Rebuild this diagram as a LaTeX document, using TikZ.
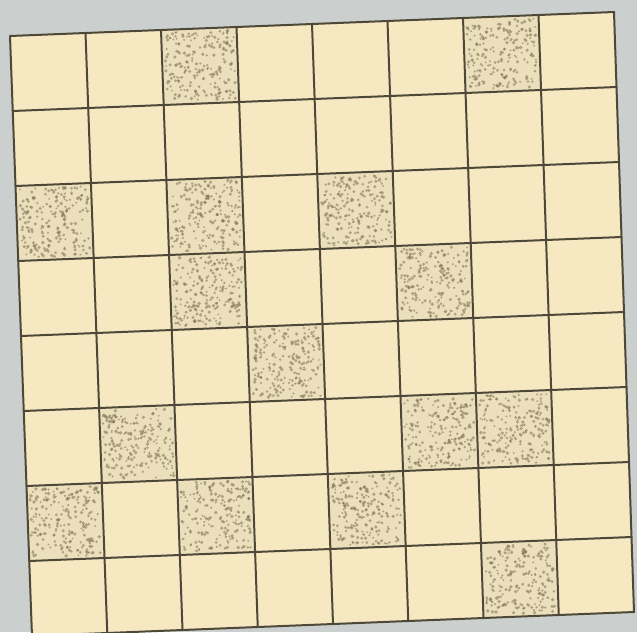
\documentclass[tikz,border=0pt]{standalone}
\usepackage{tikz}
\definecolor{bggray}{RGB}{203,207,206}
\definecolor{cream}{RGB}{246,233,194}
\definecolor{dotcell}{RGB}{236,224,188}
\definecolor{gridline}{RGB}{78,72,56}
\definecolor{stipple}{RGB}{125,112,84}
\newcommand\gridpt[3]{%
  \pgfmathsetmacro\gx{(1-(#2))*((1-(#1))*10+(#1)*614)+(#2)*((1-(#1))*32+(#1)*634)}%
  \pgfmathsetmacro\gy{(1-(#2))*((1-(#1))*36+(#1)*12)+(#2)*((1-(#1))*636+(#1)*612)}%
  \coordinate (#3) at (\gx,-\gy);}
\begin{document}
\begin{tikzpicture}[x=1pt,y=1pt,
  gridstroke/.style={draw=gridline,line width=2pt,line cap=round},
  dotmark/.style={fill=stipple,fill opacity=0.55}]
\useasboundingbox (0,0) rectangle (637,-632);
\fill[bggray] (0,0) rectangle (637,-632);
\gridpt{0}{0}{TL}\gridpt{1}{0}{TR}\gridpt{1}{1}{BR}\gridpt{0}{1}{BL}
\fill[cream] (TL) -- (TR) -- (BR) -- (BL) -- cycle;
\pgfmathsetseed{4242}
\foreach \c/\r in {3/1,7/1,1/3,3/3,5/3,3/4,6/4,4/5,2/6,6/6,7/6,1/7,3/7,5/7,7/8}{
  \pgfmathsetmacro\ua{(\c-1)/8}\pgfmathsetmacro\ub{\c/8}
  \pgfmathsetmacro\va{(\r-1)/8}\pgfmathsetmacro\vb{\r/8}
  \gridpt{\ua}{\va}{P1}\gridpt{\ub}{\va}{P2}\gridpt{\ub}{\vb}{P3}\gridpt{\ua}{\vb}{P4}
  \fill[dotcell] (P1) -- (P2) -- (P3) -- (P4) -- cycle;
  \foreach \k in {1,...,210}{
    \pgfmathsetmacro\uu{(\c-1+0.04+0.92*rnd)/8}
    \pgfmathsetmacro\vv{(\r-1+0.04+0.92*rnd)/8}
    \pgfmathsetmacro\rr{1.0+0.9*rnd}
    \gridpt{\uu}{\vv}{D}
    \fill[dotmark] (D) circle (\rr);
  }
}
\foreach \i in {0,...,8}{
  \gridpt{\i/8}{0}{A}\gridpt{\i/8}{1}{B}
  \draw[gridstroke] (A) -- (B);
  \gridpt{0}{\i/8}{C}\gridpt{1}{\i/8}{E}
  \draw[gridstroke] (C) -- (E);
}
\end{tikzpicture}
\end{document}
